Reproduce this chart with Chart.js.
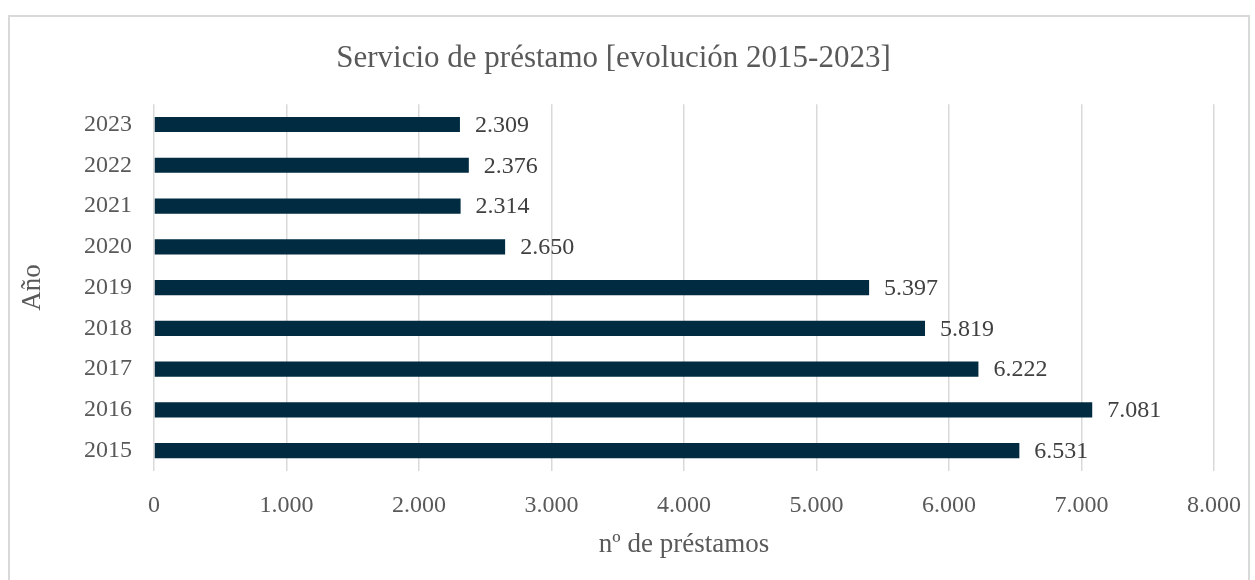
<!DOCTYPE html>
<html>
<head>
<meta charset="utf-8">
<script src="https://cdn.jsdelivr.net/npm/chart.js@4"></script>
<style>
  body { margin: 0; background: #fff; }
  #frame { position: absolute; left: 8px; top: 15px; width: 1238px; height: 600px; border: 2px solid #d9d9d9; }
  #wrap { position: absolute; left: 0; top: 0; width: 1255px; height: 580px; }
</style>
</head>
<body>
<div id="frame"></div>
<div id="wrap"><canvas id="prestamosChart" width="1255" height="580"></canvas></div>
<script>
// datos
const years = ['2015', '2016', '2017', '2018', '2019', '2020', '2021', '2022', '2023'];
const loans = [6531, 7081, 6222, 5819, 5397, 2650, 2314, 2376, 2309];
const xTicks = [0, 1000, 2000, 3000, 4000, 5000, 6000, 7000, 8000];

const serif = "'Liberation Serif', 'DejaVu Serif', serif";
const fmtDot = (v) => String(v).replace(/\B(?=(\d{3})+(?!\d))/g, '.');

// etiquetas al final de cada barra
const valueLabels = {
    id: 'valueLabels',
    afterDatasetsDraw(chart) {
        const ctx = chart.ctx;
        const meta = chart.getDatasetMeta(0);
        ctx.save();
        ctx.font = '24px ' + serif;
        ctx.fillStyle = '#404040';
        ctx.textAlign = 'left';
        ctx.textBaseline = 'middle';
        meta.data.forEach((bar, i) => {
            ctx.fillText(fmtDot(loans[i]), bar.x + 15, bar.y + 1);
        });
        ctx.restore();
    }
};

document.addEventListener('DOMContentLoaded', function () {
    const ctx = document.getElementById('prestamosChart').getContext('2d');
    new Chart(ctx, {
        type: 'bar',
        data: {
            labels: years,
            datasets: [{
                label: 'nº de préstamos',
                data: loans,
                backgroundColor: '#002b40',
                barPercentage: 0.37,
                categoryPercentage: 1
            }]
        },
        options: {
            indexAxis: 'y',
            responsive: false,
            animation: false,
            devicePixelRatio: 1,
            layout: { padding: { left: 13, right: 41, top: 20, bottom: 15 } },
            plugins: {
                legend: { display: false },
                tooltip: { enabled: false },
                title: {
                    display: true,
                    text: 'Servicio de préstamo [evolución 2015-2023]',
                    color: '#595959',
                    font: { family: serif, size: 31, weight: 'normal' },
                    padding: { top: 20, bottom: 27 }
                }
            },
            scales: {
                x: {
                    min: 0,
                    max: 8000,
                    afterBuildTicks: (scale) => { scale.ticks = xTicks.map(v => ({ value: v })); },
                    afterFit: (scale) => {
                        scale.height = 94;
                        scale.paddingLeft = 0;
                        scale.paddingRight = 0;
                    },
                    grid: { color: '#d9d9d9', lineWidth: 1.5, drawTicks: false },
                    border: { display: false },
                    ticks: {
                        color: '#595959',
                        padding: 20,
                        maxRotation: 0,
                        autoSkip: false,
                        font: { family: serif, size: 24 },
                        callback: (v) => fmtDot(v)
                    },
                    title: {
                        display: true,
                        text: 'nº de préstamos',
                        color: '#595959',
                        font: { family: serif, size: 27 }
                    }
                },
                y: {
                    reverse: true,
                    afterFit: (scale) => { scale.width = 141; },
                    grid: { display: false, drawTicks: false },
                    border: { display: false },
                    ticks: {
                        color: '#595959',
                        padding: 22,
                        autoSkip: false,
                        font: { family: serif, size: 24 }
                    },
                    title: {
                        display: true,
                        text: 'Año',
                        color: '#595959',
                        font: { family: serif, size: 27 }
                    }
                }
            }
        },
        plugins: [valueLabels]
    });
});
</script>
</body>
</html>
